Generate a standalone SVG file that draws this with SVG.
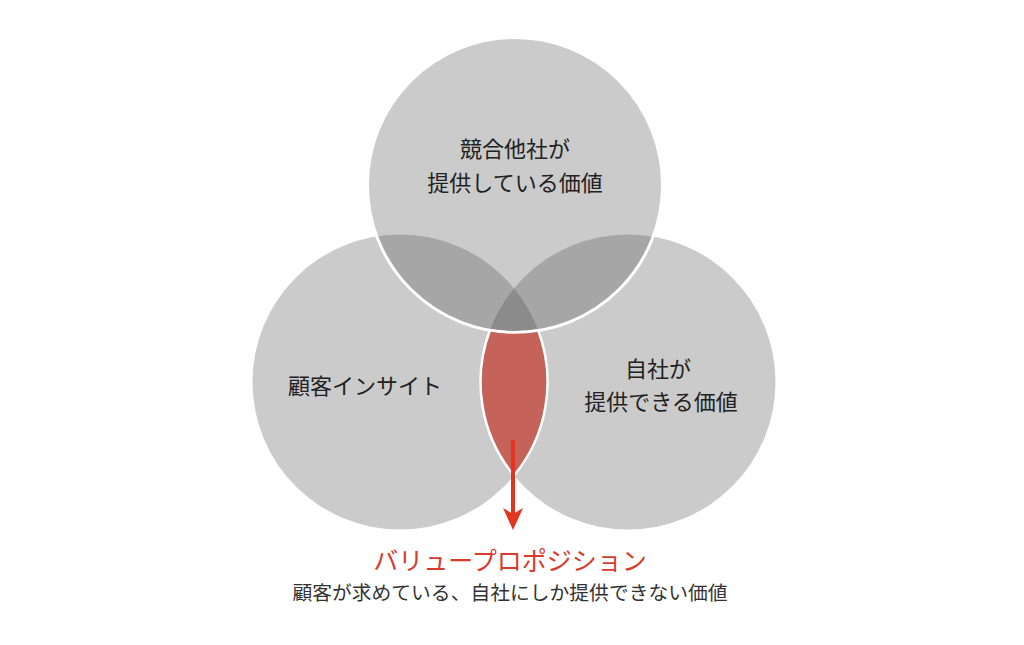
<svg xmlns="http://www.w3.org/2000/svg" width="1024" height="645" viewBox="0 0 1024 645">
<style>
.base{fill:#cbcbcb}
.pair{fill:#a6a6a6}
.lbl{font-family:"Noto Sans CJK JP","Noto Sans",sans-serif;font-size:22px;fill:#222;text-anchor:middle}
.title{font-family:"Noto Sans CJK JP","Noto Sans",sans-serif;font-size:25px;fill:#d93a2b;text-anchor:middle}
.sub{font-family:"Noto Sans CJK JP","Noto Sans",sans-serif;font-size:19.8px;fill:#333;text-anchor:middle}
</style>
<defs>
<clipPath id="clipTop"><circle cx="515" cy="185" r="147.5"/></clipPath>
<marker id="arrow" markerUnits="userSpaceOnUse" markerWidth="24" markerHeight="22" refX="8" refY="10" orient="auto" viewBox="0 0 24 22">
<path d="M0,0 L22,10 L0,20 L6,10 Z" fill="#e2341f"/>
</marker>
</defs>
<rect width="1024" height="645" fill="#fff"/>
<g id="customer">
<circle class="base" cx="400" cy="382" r="147.5"/>
</g>
<g id="self">
<circle class="base" cx="628" cy="382" r="147.5"/>
</g>
<g id="competitor">
<circle class="base" cx="515" cy="185" r="147.5"/>
<g clip-path="url(#clipTop)">
<circle class="pair" cx="400" cy="382" r="147.5"/>
<circle class="pair" cx="628" cy="382" r="147.5"/>
</g>
<path d="M514,288.4 A147.5,147.5 0 0 1 538.3,330.6 A147.5,147.5 0 0 1 489.9,330.3 A147.5,147.5 0 0 1 514,288.4 Z" fill="#8b8b8b"/>
<circle cx="515" cy="185" r="147.5" fill="none" stroke="#fff" stroke-width="3"/>
</g>
<g id="value-proposition">
<path d="M489.9,330.3 A147.5,147.5 0 0 0 514,475.6 A147.5,147.5 0 0 0 538.3,330.6 A147.5,147.5 0 0 1 489.9,330.3 Z" fill="#c5625a" stroke="#fff" stroke-width="2.5"/>
</g>
<g id="labels">
<text class="lbl" x="515" y="157">競合他社が</text>
<text class="lbl" x="515" y="191">提供している価値</text>
<text class="lbl" x="365" y="394">顧客インサイト</text>
<text class="lbl" x="658" y="377">自社が</text>
<text class="lbl" x="661" y="410">提供できる価値</text>
<text class="title" x="510" y="570">バリュープロポジション</text>
<text class="sub" x="510" y="600">顧客が求めている、自社にしか提供できない価値</text>
</g>
<g id="connectors">
<line x1="513" y1="440" x2="513" y2="516" stroke="#e2341f" stroke-width="4" marker-end="url(#arrow)"/>
</g>
</svg>
